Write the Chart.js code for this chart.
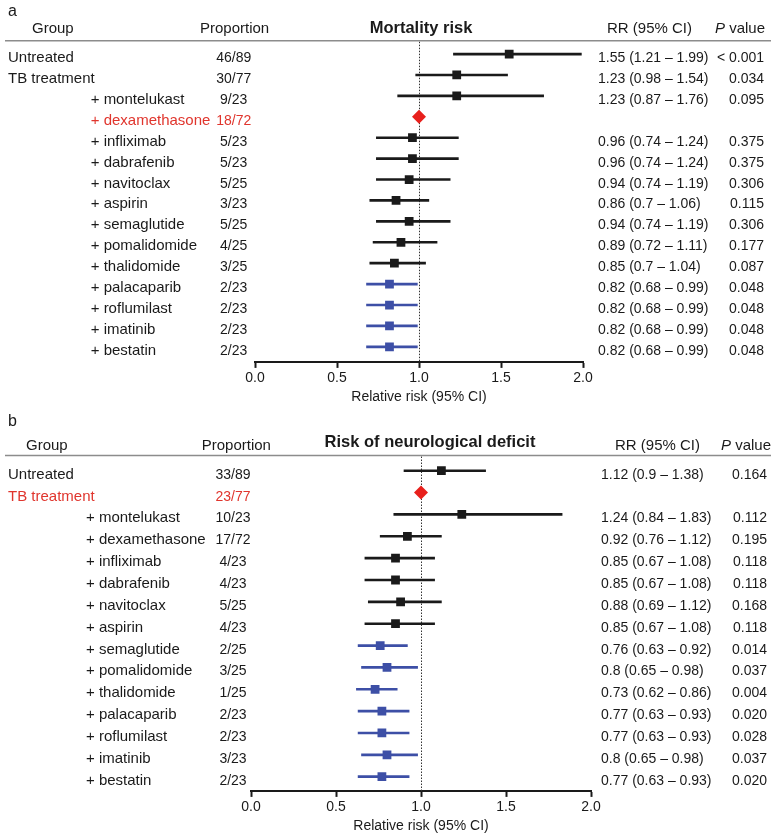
<!DOCTYPE html>
<html>
<head>
<meta charset="utf-8">
<script src="https://cdn.jsdelivr.net/npm/chart.js@4.4.1/dist/chart.umd.min.js"></script>
<style>
  html, body { margin: 0; padding: 0; background: #fff; }
  #wrap { position: relative; width: 780px; height: 840px; }
  canvas { position: absolute; left: 0; }
</style>
</head>
<body>
<div id="wrap">
  <canvas id="mortChart" width="780" height="410" style="top:0"></canvas>
  <canvas id="neuroChart" width="780" height="430" style="top:410px"></canvas>
</div>
<script>
const FONT = "'Liberation Sans', Arial, Helvetica, sans-serif";
const INK = '#1a1a1a';
const BLUE = '#3d4fa6';
const RED = '#e8201c';
const RED_TEXT = '#e0352d';

// x axis ticks
const xTicks = [0, 0.5, 1, 1.5, 2];
const xTickLabels = ['0.0', '0.5', '1.0', '1.5', '2.0'];

// Panel a: mortality risk
const groupsA = ['Untreated', 'TB treatment', '+ montelukast', '+ dexamethasone', '+ infliximab', '+ dabrafenib',
  '+ navitoclax', '+ aspirin', '+ semaglutide', '+ pomalidomide', '+ thalidomide', '+ palacaparib',
  '+ roflumilast', '+ imatinib', '+ bestatin'];
const propA = ['46/89', '30/77', '9/23', '18/72', '5/23', '5/23', '5/25', '3/23', '5/25', '4/25', '3/25', '2/23', '2/23', '2/23', '2/23'];
const rrA = [1.55, 1.23, 1.23, 1, 0.96, 0.96, 0.94, 0.86, 0.94, 0.89, 0.85, 0.82, 0.82, 0.82, 0.82];
const lowA = [1.21, 0.98, 0.87, null, 0.74, 0.74, 0.74, 0.7, 0.74, 0.72, 0.7, 0.68, 0.68, 0.68, 0.68];
const highA = [1.99, 1.54, 1.76, null, 1.24, 1.24, 1.19, 1.06, 1.19, 1.11, 1.04, 0.99, 0.99, 0.99, 0.99];
const pA = ['< 0.001', '0.034', '0.095', '', '0.375', '0.375', '0.306', '0.115', '0.306', '0.177', '0.087', '0.048', '0.048', '0.048', '0.048'];

// Panel b: neurological deficit
const groupsB = ['Untreated', 'TB treatment', '+ montelukast', '+ dexamethasone', '+ infliximab', '+ dabrafenib',
  '+ navitoclax', '+ aspirin', '+ semaglutide', '+ pomalidomide', '+ thalidomide', '+ palacaparib',
  '+ roflumilast', '+ imatinib', '+ bestatin'];
const propB = ['33/89', '23/77', '10/23', '17/72', '4/23', '4/23', '5/25', '4/23', '2/25', '3/25', '1/25', '2/23', '2/23', '3/23', '2/23'];
const rrB = [1.12, 1, 1.24, 0.92, 0.85, 0.85, 0.88, 0.85, 0.76, 0.8, 0.73, 0.77, 0.77, 0.8, 0.77];
const lowB = [0.9, null, 0.84, 0.76, 0.67, 0.67, 0.69, 0.67, 0.63, 0.65, 0.62, 0.63, 0.63, 0.65, 0.63];
const highB = [1.38, null, 1.83, 1.12, 1.08, 1.08, 1.12, 1.08, 0.92, 0.98, 0.86, 0.93, 0.93, 0.98, 0.93];
const pB = ['0.164', '', '0.112', '0.195', '0.118', '0.118', '0.168', '0.118', '0.014', '0.037', '0.004', '0.020', '0.028', '0.037', '0.020'];

function markColor(low, high) {
  if (low == null) return RED;
  return high < 1 ? BLUE : INK;
}

function makeForest(id, d, lay) {
  const rows = d.groups.map((g, i) => i);
  const ciRows = rows.filter(i => d.low[i] != null);

  const textPlugin = {
    id: 'forestText',
    beforeDatasetsDraw(chart) {
      const { ctx, chartArea } = chart;
      const x1 = Math.round(chart.scales.x.getPixelForValue(1)) + 0.5;
      ctx.save();
      ctx.strokeStyle = '#333';
      ctx.lineWidth = 1;
      ctx.setLineDash([1.5, 1.5]);
      ctx.beginPath();
      ctx.moveTo(x1, lay.ruleY + 1);
      ctx.lineTo(x1, chartArea.bottom);
      ctx.stroke();
      ctx.restore();
    },
    afterDraw(chart) {
      const { ctx } = chart;
      const yScale = chart.scales.y;
      ctx.save();
      ctx.textBaseline = 'alphabetic';
      ctx.fillStyle = INK;

      // panel letter
      ctx.font = `16px ${FONT}`;
      ctx.textAlign = 'left';
      ctx.fillText(lay.letter, 8, lay.letterY);

      // headers
      ctx.font = `15px ${FONT}`;
      ctx.fillText('Group', lay.groupHeadX, lay.headY);
      ctx.fillText('Proportion', lay.propHeadX, lay.headY);
      ctx.fillText('RR (95% CI)', lay.rrHeadX, lay.headY);
      ctx.font = `italic 15px ${FONT}`;
      const wP = ctx.measureText('P').width;
      ctx.font = `15px ${FONT}`;
      const wV = ctx.measureText(' value').width;
      const pStart = lay.pHeadRight - wP - wV;
      ctx.font = `italic 15px ${FONT}`;
      ctx.fillText('P', pStart, lay.headY);
      ctx.font = `15px ${FONT}`;
      ctx.fillText(' value', pStart + wP, lay.headY);

      ctx.font = `bold 16.5px ${FONT}`;
      ctx.textAlign = 'center';
      ctx.fillText(lay.title, lay.titleX, lay.titleY);

      // rule under header
      ctx.strokeStyle = '#8c8c8c';
      ctx.lineWidth = 1.5;
      ctx.beginPath();
      ctx.moveTo(5, lay.ruleY);
      ctx.lineTo(771, lay.ruleY);
      ctx.stroke();

      // row text
      rows.forEach(i => {
        const y = yScale.getPixelForValue(i) + 8;
        const isRef = d.low[i] == null;
        const g = d.groups[i];
        ctx.fillStyle = isRef ? RED_TEXT : INK;
        ctx.font = `15px ${FONT}`;
        ctx.textAlign = 'left';
        ctx.fillText(g, g.startsWith('+') ? lay.subX : lay.mainX, y);
        ctx.font = `14px ${FONT}`;
        ctx.textAlign = 'center';
        ctx.fillText(d.prop[i], lay.propX, y);
        if (!isRef) {
          ctx.fillStyle = INK;
          ctx.textAlign = 'left';
          ctx.fillText(`${d.rr[i]} (${d.low[i]} \u2013 ${d.high[i]})`, lay.rrX, y);
          ctx.textAlign = 'right';
          ctx.fillText(d.p[i], lay.pRight, y);
        }
      });
      ctx.restore();
    }
  };

  return new Chart(document.getElementById(id), {
    type: 'bar',
    data: {
      datasets: [{
        type: 'scatter',
        order: 0,
        data: rows.map(i => ({ x: d.rr[i], y: i })),
        pointStyle: rows.map(i => d.low[i] == null ? 'rectRot' : 'rect'),
        pointRadius: rows.map(i => d.low[i] == null ? 7 : 6.2),
        backgroundColor: rows.map(i => markColor(d.low[i], d.high[i])),
        borderWidth: 0
      }, {
        type: 'bar',
        order: 1,
        data: ciRows.map(i => ({ x: [d.low[i], d.high[i]], y: i })),
        backgroundColor: ciRows.map(i => markColor(d.low[i], d.high[i])),
        barThickness: 2,
        borderWidth: 0,
        borderSkipped: false,
        grouped: false
      }]
    },
    options: {
      indexAxis: 'y',
      responsive: false,
      devicePixelRatio: 1,
      animation: false,
      events: [],
      layout: { padding: lay.pad },
      plugins: { legend: { display: false }, tooltip: { enabled: false } },
      scales: {
        x: {
          type: 'linear',
          min: 0,
          max: 2,
          afterBuildTicks: scale => { scale.ticks = xTicks.map(v => ({ value: v })); },
          border: { display: true, color: INK, width: 2 },
          grid: { display: true, drawOnChartArea: false, drawTicks: true, tickLength: 6, tickWidth: 2, tickColor: INK },
          ticks: {
            padding: 2,
            color: INK,
            maxRotation: 0,
            autoSkip: false,
            font: { family: FONT, size: 14 },
            callback: (v, i) => xTickLabels[i]
          },
          title: {
            display: true,
            text: 'Relative risk (95% CI)',
            color: INK,
            font: { family: FONT, size: 14 },
            padding: { top: 0, bottom: 3 }
          }
        },
        y: {
          type: 'linear', reverse: true, offset: false,
          min: -0.5, max: lay.yMax, display: false
        }
      }
    },
    plugins: [textPlugin]
  });
}

makeForest('mortChart',
  { groups: groupsA, prop: propA, rr: rrA, low: lowA, high: highA, p: pA },
  {
    letter: 'a', letterY: 16, title: 'Mortality risk', titleX: 421, titleY: 33, headY: 33, ruleY: 40.7,
    groupHeadX: 32, propHeadX: 200, rrHeadX: 607, pHeadRight: 765,
    mainX: 8, subX: 90.7, propX: 233.7, rrX: 598, pRight: 764,
    pad: { left: 255, right: 197, top: 43.6, bottom: 1.5 }, yMax: 14.72
  });

makeForest('neuroChart',
  { groups: groupsB, prop: propB, rr: rrB, low: lowB, high: highB, p: pB },
  {
    letter: 'b', letterY: 16, title: 'Risk of neurological deficit', titleX: 430, titleY: 37, headY: 40, ruleY: 45.5,
    groupHeadX: 26, propHeadX: 201.7, rrHeadX: 615, pHeadRight: 771,
    mainX: 8, subX: 86, propX: 233, rrX: 601, pRight: 767,
    pad: { left: 251, right: 189, top: 49.8, bottom: 2.5 }, yMax: 14.65
  });
</script>
</body>
</html>
